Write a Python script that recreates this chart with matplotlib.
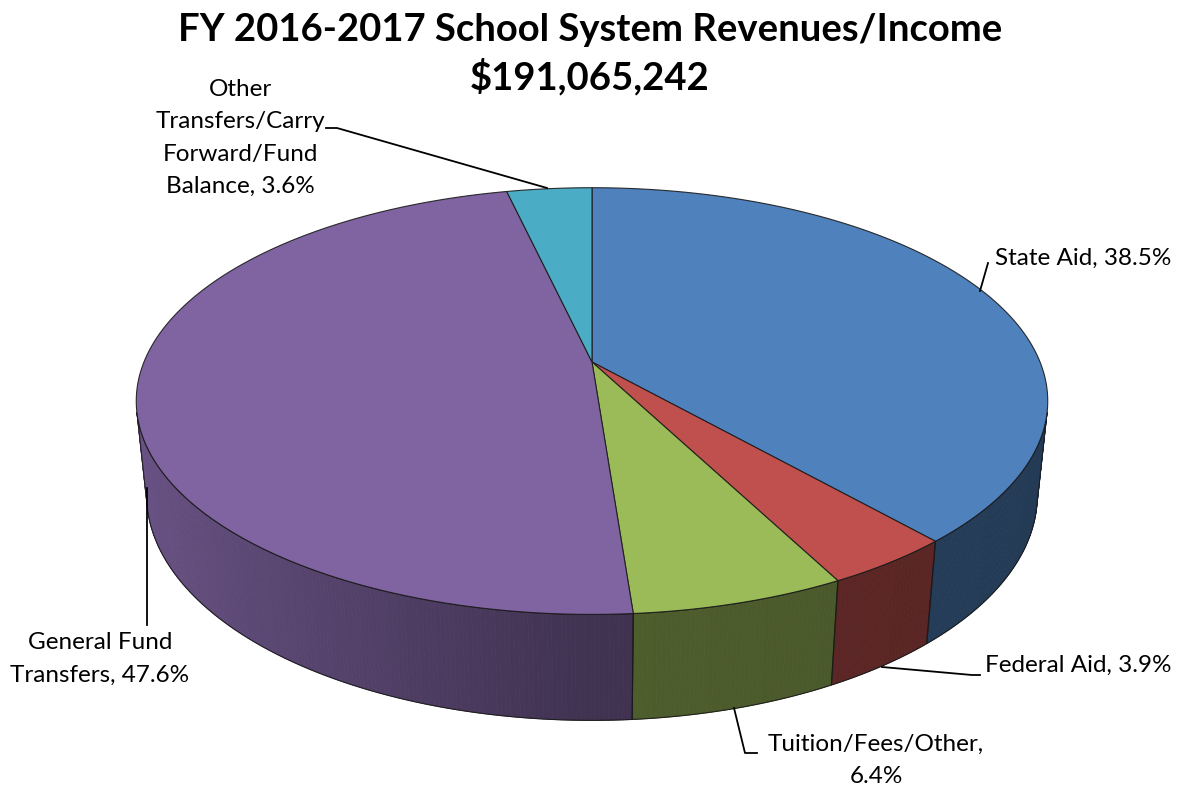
import numpy as np
import matplotlib
matplotlib.use("Agg")
import matplotlib.pyplot as plt
from matplotlib.patches import Polygon
from matplotlib.colors import to_rgb

plt.rcParams["font.family"] = ["Lato", "DejaVu Sans"]

# --- data -------------------------------------------------------------
title = "FY 2016-2017 School System Revenues/Income"
total_revenue = 191065242
categories = ["State Aid", "Federal Aid", "Tuition/Fees/Other",
              "General Fund Transfers",
              "Other Transfers/Carry Forward/Fund Balance"]
shares = [38.5, 3.9, 6.4, 47.6, 3.6]
colors = ["#4F81BD", "#C0504D", "#9BBB59", "#8064A2", "#4BACC6"]
# how each category name is broken across lines in its label
label_names = ["State Aid", "Federal Aid", "Tuition/Fees/Other",
               "General Fund\nTransfers",
               "Other\nTransfers/Carry\nForward/Fund\nBalance"]
label_seps = [", ", ", ", ",\n", ", ", ", "]

# --- 3-D pie camera ---------------------------------------------------
ELEV = np.radians(27.4)
DIST = 4.85
FOCAL = 2173.0
THICK = 0.238
CX, CY = 592.0, 362.0
S_E, C_E = np.sin(ELEV), np.cos(ELEV)


def project(x, y, z):
    depth = DIST + y * C_E - z * S_E
    up = y * S_E + z * C_E
    return CX + FOCAL * x / depth, CY - FOCAL * up / depth


def rim(t, z):
    return project(np.cos(t), np.sin(t), z)


def side_factor(t):
    c = np.cos(t)
    return 0.50 + 0.33 * max(0.0, -c) - 0.05 * max(0.0, c)


fig = plt.figure(figsize=(11.8, 7.88), dpi=100)
ax = fig.add_axes([0, 0, 1, 1])
ax.set_xlim(0, 1180)
ax.set_ylim(788, 0)
ax.axis("off")

fracs = np.array(shares) / np.sum(shares)
bounds = np.radians(90.0 - 360.0 * np.concatenate([[0.0], np.cumsum(fracs)]))
visible_sin = -1.0 / (DIST * C_E)
edge_rgba = (0.1, 0.1, 0.1, 0.9)

# side walls (only the part facing the camera)
for i in range(len(shares)):
    t0, t1 = bounds[i], bounds[i + 1]
    ts = np.linspace(t0, t1, max(4, int(abs(t1 - t0) / np.radians(0.5))))
    base = np.array(to_rgb(colors[i]))
    vis_t = []
    for a, b in zip(ts[:-1], ts[1:]):
        m = 0.5 * (a + b)
        if np.sin(m) >= visible_sin:
            continue
        vis_t.extend([a, b])
        col = np.clip(base * side_factor(m), 0, 1)
        xa0, ya0 = rim(a, 0)
        xb0, yb0 = rim(b, 0)
        xa1, ya1 = rim(a, -THICK)
        xb1, yb1 = rim(b, -THICK)
        ax.add_patch(Polygon([(xa0, ya0), (xb0, yb0), (xb1, yb1), (xa1, ya1)],
                             closed=True, facecolor=col, edgecolor=col,
                             linewidth=0.6, zorder=1))
    if vis_t:
        vt = np.array(sorted(set(vis_t), reverse=True))
        top = [rim(t, 0) for t in vt]
        bot = [rim(t, -THICK) for t in vt[::-1]]
        ax.add_patch(Polygon(top + bot, closed=True, facecolor="none",
                             edgecolor=edge_rgba, linewidth=0.8, zorder=2))

# top faces
for i in range(len(shares)):
    t0, t1 = bounds[i], bounds[i + 1]
    ts = np.linspace(t0, t1, max(4, int(abs(t1 - t0) / np.radians(0.5))))
    pts = [project(0, 0, 0)] + [rim(t, 0) for t in ts]
    ax.add_patch(Polygon(pts, closed=True, facecolor=colors[i],
                         edgecolor=edge_rgba, linewidth=0.8, zorder=3))

# title
ax.text(590, 30, title, ha="center", va="center", fontsize=27.5,
        fontweight="bold", color="black")
ax.text(590, 77, f"\\${total_revenue:,}", ha="center", va="center",
        fontsize=27.5, fontweight="bold", color="black")

# data labels with leader lines
labels = [f"{n}{s}{v:.1f}%" for n, s, v in zip(label_names, label_seps, shares)]
label_pos = [(995, 258, "left"), (985, 665, "left"), (876, 760, "center"),
             (100, 659, "center"), (240, 138, "center")]
leaders = [
    [(988, 263), (980, 291)],
    [(882, 667), (972, 675), (980, 675)],
    [(734, 708), (745, 753), (757, 753)],
    [(147, 488), (147, 625)],
    [(326, 128), (337, 128), (547, 188)],
]
for text, (lx, ly, ha), line in zip(labels, label_pos, leaders):
    ax.text(lx, ly, text, ha=ha, va="center", fontsize=17.5,
            linespacing=1.65, color="black", zorder=5)
    xs, ys = zip(*line)
    ax.plot(xs, ys, color="black", linewidth=1.3, zorder=4)

fig.savefig("out.png", dpi=100, facecolor="white")
